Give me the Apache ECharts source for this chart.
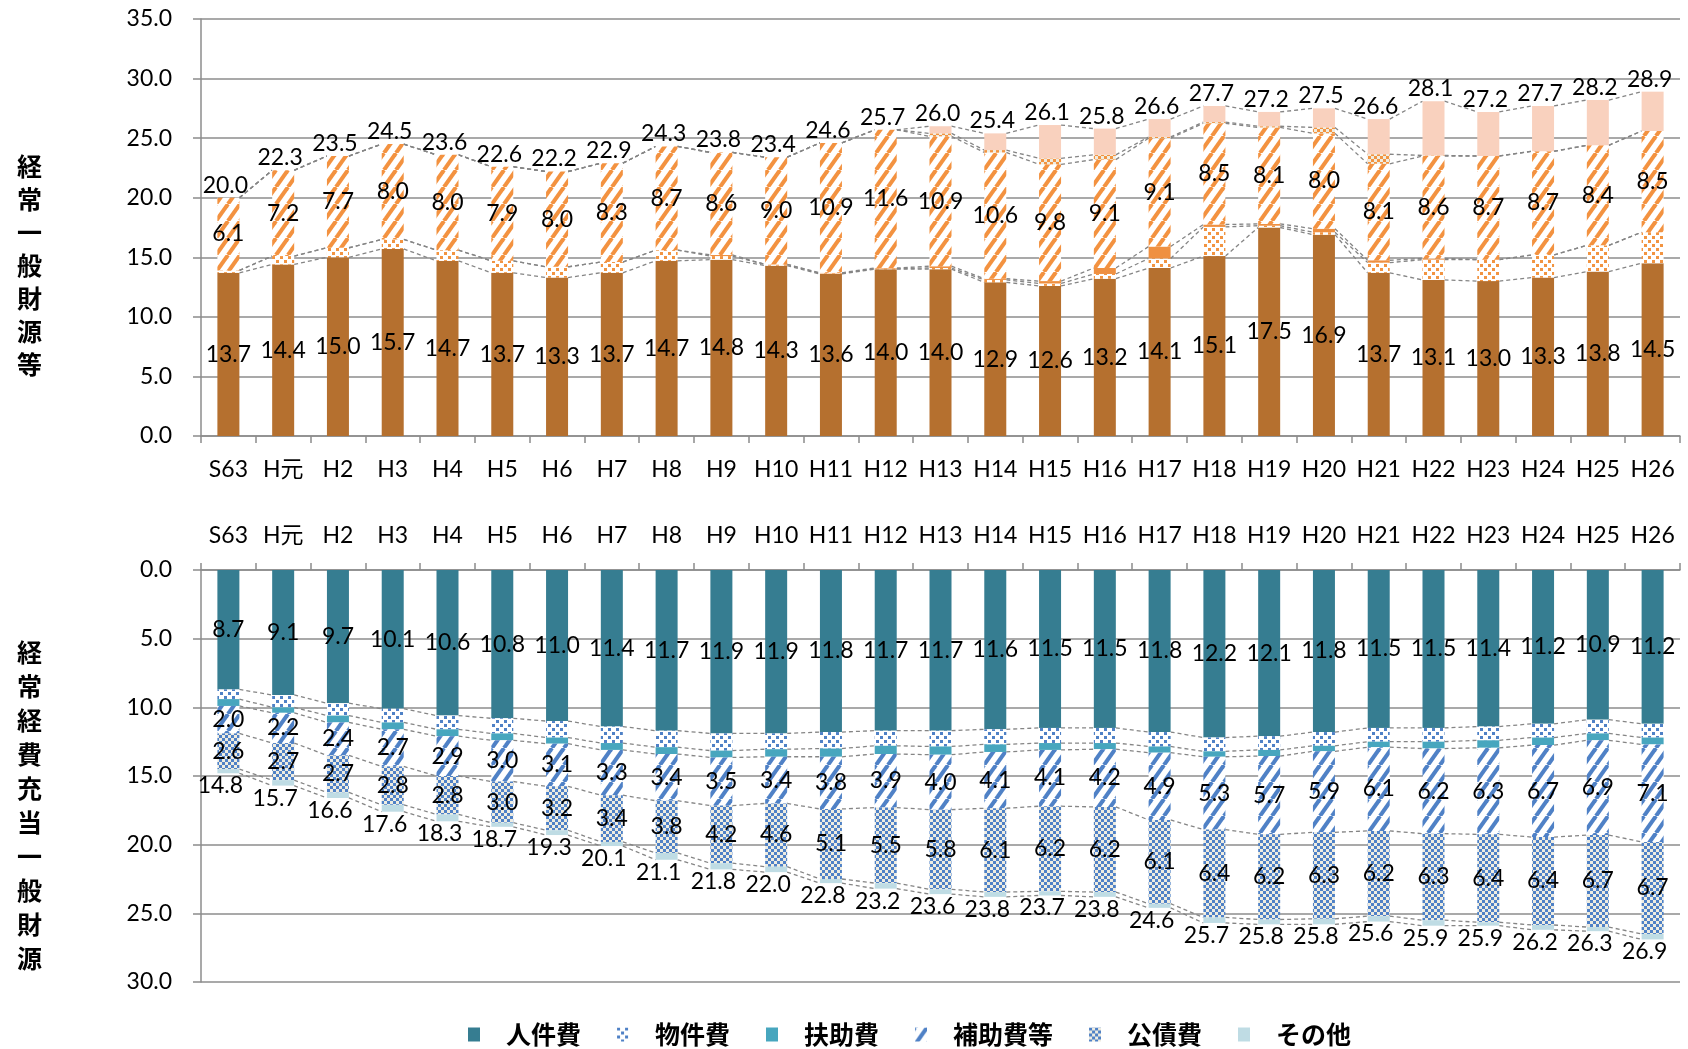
<!DOCTYPE html>
<html><head><meta charset="utf-8">
<script src="https://cdn.jsdelivr.net/npm/echarts@6/dist/echarts.min.js"></script>
<style>html,body{margin:0;padding:0;background:#fff}#c{width:1688px;height:1049px}</style>
</head><body><div id="c"></div>
<script>
// ---------- DATA ----------
const categories = ['S63','H元','H2','H3','H4','H5','H6','H7','H8','H9','H10','H11','H12','H13','H14','H15','H16','H17','H18','H19','H20','H21','H22','H23','H24','H25','H26'];

// top chart: 経常一般財源等 (stack bottom -> top)
const topNames = ['地方税','地方譲与税等','地方特例交付金等','地方交付税','その他一般財源','臨時財政対策債'];
const top1 = [13.7,14.4,15.0,15.7,14.7,13.7,13.3,13.7,14.7,14.8,14.3,13.6,14.0,14.0,12.9,12.6,13.2,14.1,15.1,17.5,16.9,13.7,13.1,13.0,13.3,13.8,14.5];
const top2 = [0.2,0.7,0.8,0.8,0.9,1.0,0.9,0.9,0.9,0.3,0.1,0.05,0.05,0.1,0.2,0.2,0.4,0.8,2.45,0.15,0.2,0.85,1.7,1.8,1.9,2.2,2.6];
const top3 = [0,0,0,0,0,0,0,0,0,0.1,0,0.05,0.05,0.15,0.1,0.2,0.5,1.0,0.2,0.15,0.3,0.2,0.1,0,0,0,0];
const top4 = [6.1,7.2,7.7,8.0,8.0,7.9,8.0,8.3,8.7,8.6,9.0,10.9,11.6,10.9,10.6,9.8,9.1,9.1,8.5,8.1,8.0,8.1,8.6,8.7,8.7,8.4,8.5];
const top5 = [0,0,0,0,0,0,0,0,0,0,0,0,0,0.25,0.2,0.5,0.4,0.1,0.1,0.1,0.5,0.8,0.05,0,0,0,0];
const top6 = [0,0,0,0,0,0,0,0,0,0,0,0,0,0.6,1.4,2.8,2.2,1.5,1.35,1.2,1.6,2.95,4.55,3.7,3.8,3.8,3.3];
const topTotal = [20.0,22.3,23.5,24.5,23.6,22.6,22.2,22.9,24.3,23.8,23.4,24.6,25.7,26.0,25.4,26.1,25.8,26.6,27.7,27.2,27.5,26.6,28.1,27.2,27.7,28.2,28.9];
const topTicks = [0,35,5];

// bottom chart: 経常経費充当一般財源 (stack top -> down)
const botNames = ['人件費','物件費','扶助費','補助費等','公債費','その他'];
const bot1 = [8.7,9.1,9.7,10.1,10.6,10.8,11.0,11.4,11.7,11.9,11.9,11.8,11.7,11.7,11.6,11.5,11.5,11.8,12.2,12.1,11.8,11.5,11.5,11.4,11.2,10.9,11.2];
const bot2 = [0.7,0.9,0.9,1.0,1.0,1.1,1.2,1.2,1.2,1.25,1.15,1.2,1.1,1.15,1.1,1.1,1.1,1.05,1.0,1.0,1.0,1.0,1.0,1.0,1.0,1.0,1.0];
const bot3 = [0.5,0.4,0.5,0.5,0.5,0.5,0.45,0.5,0.5,0.5,0.55,0.6,0.6,0.6,0.55,0.5,0.45,0.45,0.4,0.45,0.4,0.4,0.5,0.55,0.55,0.5,0.5];
const bot4 = [2.0,2.2,2.4,2.7,2.9,3.0,3.1,3.3,3.4,3.5,3.4,3.8,3.9,4.0,4.1,4.1,4.2,4.9,5.3,5.7,5.9,6.1,6.2,6.3,6.7,6.9,7.1];
const bot5 = [2.6,2.7,2.7,2.8,2.8,3.0,3.2,3.4,3.8,4.2,4.6,5.1,5.5,5.8,6.1,6.2,6.2,6.1,6.4,6.2,6.3,6.2,6.3,6.4,6.4,6.7,6.7];
const bot6 = [0.3,0.4,0.4,0.5,0.5,0.3,0.35,0.3,0.5,0.45,0.4,0.3,0.4,0.35,0.35,0.3,0.35,0.3,0.4,0.35,0.4,0.4,0.4,0.25,0.35,0.3,0.4];
const botTotal = [14.8,15.7,16.6,17.6,18.3,18.7,19.3,20.1,21.1,21.8,22.0,22.8,23.2,23.6,23.8,23.7,23.8,24.6,25.7,25.8,25.8,25.6,25.9,25.9,26.2,26.3,26.9];
const botTicks = [0,30,5];

// ---------- PATTERNS ----------
function pat(w,h,bg,draw){const c=document.createElement('canvas');c.width=w;c.height=h;const g=c.getContext('2d');g.fillStyle=bg;g.fillRect(0,0,w,h);draw(g,w,h);return {image:c,repeat:'repeat'};}
function hatch(fg){return pat(12,17,'#ffffff',(g,w,h)=>{g.strokeStyle=fg;g.lineWidth=4;for(const dx of [-w,0,w]){g.beginPath();g.moveTo(dx,h);g.lineTo(dx+w,0);g.stroke();}});}
function confetti(fg){return pat(8,8,'#ffffff',(g)=>{g.fillStyle=fg;g.fillRect(0,0,3,3);g.fillRect(4,4,3,3);});}
function checker(fg,bg){return pat(6,6,bg,(g)=>{g.fillStyle=fg;g.fillRect(0,0,3,3);g.fillRect(3,3,3,3);});}

const topColors = ['#B5702F', confetti('#F29441'), '#EF9041', hatch('#F39240'), checker('#F29441','#EEECE1'), '#F9D1BE'];
const botColors = ['#367D91', confetti('#4F81C6'), '#47A6BE', hatch('#4F81C6'), checker('#4F81C6','#EEECE1'), '#BFDCE4'];

const BW = 22;
const FS = 23;
const LABEL_FONT = 'Lato, "Noto Sans CJK JP", sans-serif';
const lbl = {show:true, position:'inside', color:'#000', fontSize:FS, fontFamily:LABEL_FONT, formatter:p=>Number(p.value).toFixed(1)};

function bars(names, arrs, colors, gi, labelIdx){
  return arrs.map((d,k)=>({
    name:names[k], type:'bar', stack:'s'+gi, xAxisIndex:gi, yAxisIndex:gi, barWidth:BW,
    data:d, itemStyle:{color:colors[k]},
    label: labelIdx.includes(k) ? lbl : {show:false},
    emphasis:{disabled:true}
  }));
}
function cums(arrs){const out=[];let run=categories.map(()=>0);arrs.forEach(a=>{run=run.map((v,i)=>v+a[i]);out.push(run.slice());});return out;}
function seriesLines(arrs, gi){
  return cums(arrs).map(c=>({
    type:'custom', xAxisIndex:gi, yAxisIndex:gi, silent:true, z:1,
    data: c.slice(0,-1).map((v,i)=>[i,v,c[i+1]]), encode:{x:0,y:1},
    renderItem:(params,api)=>{const i=api.value(0);const p1=api.coord([i,api.value(1)]);const p2=api.coord([i+1,api.value(2)]);
      return {type:'line',shape:{x1:p1[0]+BW/2,y1:p1[1],x2:p2[0]-BW/2,y2:p2[1]},style:{stroke:'#858585',lineWidth:1.3,lineDash:[4,3]}};}
  }));
}
// total labels drawn as text at the stack end (through the axis scale)
function totals(data, gi, below, offX, offY){
  return {type:'custom', xAxisIndex:gi, yAxisIndex:gi, silent:true, z:6,
    data:data.map((v,i)=>[i,v]), encode:{x:0,y:1},
    renderItem:(params,api)=>{const p=api.coord([api.value(0),api.value(1)]);
      return {type:'text', x:p[0]+offX, y:p[1]+offY, style:{text:Number(api.value(1)).toFixed(1), fill:'#000',
        font: FS+'px '+LABEL_FONT, align:'center', verticalAlign: below?'top':'bottom'}};}
  };
}

const axisGrey = '#8c8c8c';
function yAxis(gi, ticks, inverse){
  return {type:'value', gridIndex:gi, min:ticks[0], max:ticks[1], interval:ticks[2], inverse:inverse,
    axisLine:{show:true, lineStyle:{color:axisGrey, width:1.5}},
    axisTick:{show:true, length:8, lineStyle:{color:axisGrey, width:1.5}},
    splitLine:{show:true, lineStyle:{color:axisGrey, width:1.5}},
    axisLabel:{margin:29, color:'#000', fontSize:FS, fontFamily:LABEL_FONT, formatter:v=>v.toFixed(1)}};
}
function xAxis(gi, pos, margin){
  return {type:'category', gridIndex:gi, data:categories, position:pos,
    axisLine:{show:true, onZero:false, lineStyle:{color:axisGrey, width:1.5}},
    axisTick:{show:true, length:7, lineStyle:{color:axisGrey, width:1.5}},
    axisLabel:{margin:margin, color:'#000', fontSize:FS, fontFamily:LABEL_FONT, interval:0}};
}

const option = {
  animation:false,
  backgroundColor:'#fff',
  grid:[{left:201, right:8, top:19, height:417},{left:201, right:8, top:570, height:412}],
  xAxis:[xAxis(0,'bottom',22), xAxis(1,'top',23)],
  yAxis:[yAxis(0,topTicks,false), yAxis(1,botTicks,true)],
  legend:{data:botNames, left:463, top:1017, itemWidth:12, itemHeight:14, itemGap:36, icon:'rect',
    selectedMode:false,
    textStyle:{fontSize:25, fontWeight:'bold', fontFamily:'"Noto Sans CJK JP"', color:'#000', padding:[0,0,0,21]}},
  graphic:[
    {type:'text', left:17, top:150, style:{text:'経\n常\n一\n般\n財\n源\n等', fontSize:25, fontWeight:'bold', fontFamily:'"Noto Sans CJK JP"', lineHeight:33, fill:'#000'}},
    {type:'text', left:17, top:635, style:{text:'経\n常\n経\n費\n充\n当\n一\n般\n財\n源', fontSize:25, fontWeight:'bold', fontFamily:'"Noto Sans CJK JP"', lineHeight:34, fill:'#000'}}
  ],
  series:[
    ...bars(topNames,[top1,top2,top3,top4,top5,top6],topColors,0,[0,3]),
    ...seriesLines([top1,top2,top3,top4,top5,top6],0),
    totals(topTotal,0,false,-3,-1),
    ...bars(botNames,[bot1,bot2,bot3,bot4,bot5,bot6],botColors,1,[0,3,4]),
    ...seriesLines([bot1,bot2,bot3,bot4,bot5,bot6],1),
    totals(botTotal,1,true,-8,1)
  ]
};
const chart = echarts.init(document.getElementById('c'), null, {renderer:'canvas'});
chart.setOption(option);
</script></body></html>
